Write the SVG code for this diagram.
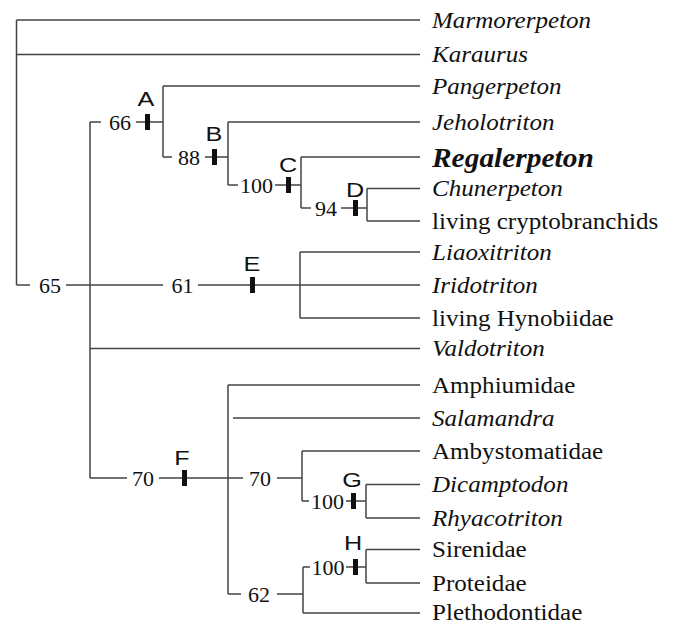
<svg xmlns="http://www.w3.org/2000/svg" width="676" height="625" viewBox="0 0 676 625">
<style>
.ln{stroke:#444;stroke-width:1.5;fill:none}
.tk{fill:#111}
.tx{font-family:"Liberation Serif","Times New Roman",serif;font-size:23px;fill:#111}
.it{font-style:italic}
.bd{font-weight:bold;font-size:27px}
.num{font-family:"Liberation Serif","Times New Roman",serif;font-size:22px;fill:#111;text-anchor:middle}
.let{font-family:"Liberation Sans",Arial,sans-serif;font-size:21px;fill:#111;text-anchor:middle}
</style>
<rect width="676" height="625" fill="#fff"/>
<g id="connectors">
<path class="ln" d="M16.5,20V285M16.5,20H420M16.5,54.5H420M16.5,285H30M66,285H163M198,285H420"/>
<path class="ln" d="M90,122V478M90,122H101M136,122H163M163,86V157M163,86H420M163,157H172M205,157H228"/>
<path class="ln" d="M228,122V185M228,122H420M228,185H238M275,185H301M301,157V208M301,157H420M301,208H311M341,208H367M367,188.5V221M367,188.5H420M367,221H420"/>
<path class="ln" d="M300,252V318M300,252H420M300,318H420M90,348.5H420"/>
<path class="ln" d="M90,478H127M159,478H243M277,478H302M228,385V594M228,385H420M233,418H420M302,451V501M302,451H420M302,501H309M346,501H366M366,484.5V518M366,484.5H420M366,518H420"/>
<path class="ln" d="M228,594H241M277,594H303M303,567V613M303,613H420M303,567H310M346,567H366M366,549.5V583M366,549.5H420M366,583H420"/>
</g>
<g id="ticks" class="tk">
<rect x="145" y="114" width="5" height="16"/>
<rect x="212" y="149" width="5" height="16"/>
<rect x="286" y="177" width="5" height="16"/>
<rect x="353" y="200" width="5" height="16"/>
<rect x="250" y="277" width="5" height="16"/>
<rect x="182" y="470" width="5" height="16"/>
<rect x="351" y="493" width="5" height="16"/>
<rect x="353" y="559" width="5" height="16"/>
</g>
<g id="node-root"><text class="num" x="50" y="293">65</text></g>
<g id="node-A"><text class="num" x="120" y="130">66</text><text class="let" transform="translate(146,106) scale(1.2,1)">A</text></g>
<g id="node-B"><text class="num" x="189" y="165">88</text><text class="let" transform="translate(214,141) scale(1.2,1)">B</text></g>
<g id="node-C"><text class="num" x="256.5" y="193">100</text><text class="let" transform="translate(288,172) scale(1.2,1)">C</text></g>
<g id="node-D"><text class="num" x="326" y="216">94</text><text class="let" transform="translate(355,197) scale(1.2,1)">D</text></g>
<g id="node-E"><text class="num" x="182.5" y="293">61</text><text class="let" transform="translate(252,271) scale(1.2,1)">E</text></g>
<g id="node-F"><text class="num" x="143" y="486">70</text><text class="let" transform="translate(182,465) scale(1.2,1)">F</text></g>
<g id="node-70b"><text class="num" x="260" y="486">70</text></g>
<g id="node-G"><text class="num" x="327.5" y="509">100</text><text class="let" transform="translate(352,487) scale(1.2,1)">G</text></g>
<g id="node-62"><text class="num" x="259" y="602">62</text></g>
<g id="node-H"><text class="num" x="328" y="575">100</text><text class="let" transform="translate(353,550) scale(1.2,1)">H</text></g>
<g id="tips" transform="translate(432,0) scale(1.09,1)">
<g id="t-marmorerpeton"><text class="tx it" x="0" y="28">Marmorerpeton</text></g>
<g id="t-karaurus"><text class="tx it" x="0" y="62.5">Karaurus</text></g>
<g id="t-pangerpeton"><text class="tx it" x="0" y="94">Pangerpeton</text></g>
<g id="t-jeholotriton"><text class="tx it" x="0" y="130">Jeholotriton</text></g>
<g id="t-regalerpeton"><text class="tx it bd" x="0" y="167">Regalerpeton</text></g>
<g id="t-chunerpeton"><text class="tx it" x="0" y="196.5">Chunerpeton</text></g>
<g id="t-cryptobranchids"><text class="tx" x="0" y="229">living cryptobranchids</text></g>
<g id="t-liaoxitriton"><text class="tx it" x="0" y="260">Liaoxitriton</text></g>
<g id="t-iridotriton"><text class="tx it" x="0" y="293">Iridotriton</text></g>
<g id="t-hynobiidae"><text class="tx" x="0" y="326">living Hynobiidae</text></g>
<g id="t-valdotriton"><text class="tx it" x="0" y="356.5">Valdotriton</text></g>
<g id="t-amphiumidae"><text class="tx" x="0" y="393">Amphiumidae</text></g>
<g id="t-salamandra"><text class="tx it" x="0" y="426">Salamandra</text></g>
<g id="t-ambystomatidae"><text class="tx" x="0" y="459">Ambystomatidae</text></g>
<g id="t-dicamptodon"><text class="tx it" x="0" y="492.5">Dicamptodon</text></g>
<g id="t-rhyacotriton"><text class="tx it" x="0" y="526">Rhyacotriton</text></g>
<g id="t-sirenidae"><text class="tx" x="0" y="557.5">Sirenidae</text></g>
<g id="t-proteidae"><text class="tx" x="0" y="591">Proteidae</text></g>
<g id="t-plethodontidae"><text class="tx" x="0" y="620">Plethodontidae</text></g>
</g>
</svg>
